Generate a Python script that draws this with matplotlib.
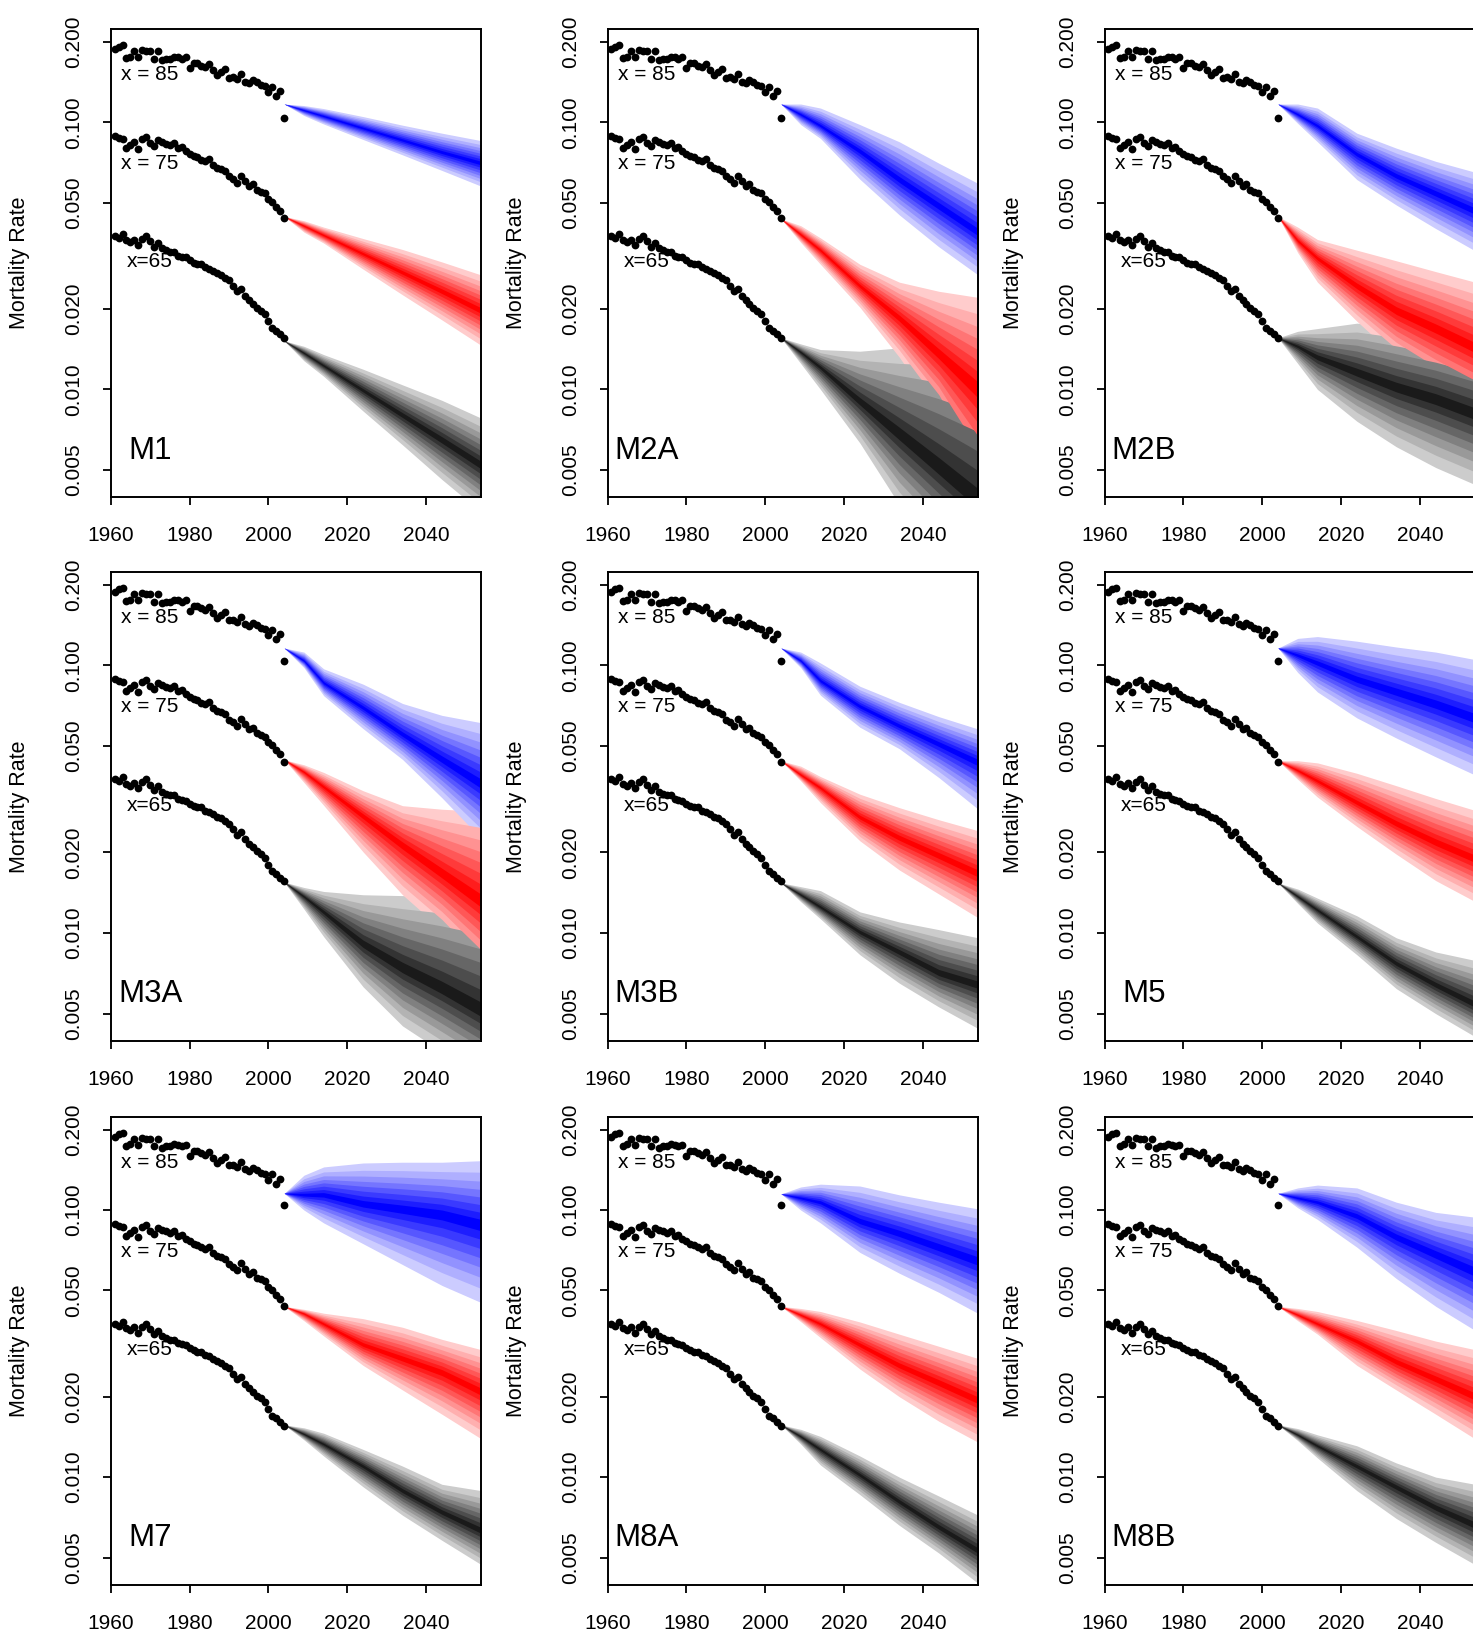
import numpy as np
import matplotlib
matplotlib.use("Agg")
import matplotlib.pyplot as plt

plt.rcParams['font.family'] = ['Liberation Sans', 'DejaVu Sans']

# ---------------- historical data (1961-2004) ----------------
years_hist = list(range(1961, 2005))
rate85 = [0.188, 0.192, 0.195, 0.174, 0.176, 0.185, 0.175, 0.186, 0.185, 0.185,
          0.173, 0.185, 0.171, 0.173, 0.173, 0.176, 0.175, 0.173, 0.175, 0.160,
          0.167, 0.166, 0.163, 0.161, 0.165, 0.157, 0.150, 0.154, 0.158, 0.147,
          0.148, 0.145, 0.151, 0.142, 0.140, 0.144, 0.141, 0.138, 0.137, 0.130,
          0.136, 0.125, 0.131, 0.104]
rate75 = [0.0885, 0.0871, 0.0863, 0.0802, 0.0819, 0.0845, 0.0795, 0.0863, 0.0879, 0.0837,
          0.0812, 0.0858, 0.0845, 0.0832, 0.0819, 0.0837, 0.0802, 0.0807, 0.0782, 0.0763,
          0.0747, 0.0740, 0.0725, 0.0714, 0.0729, 0.0692, 0.0675, 0.0667, 0.0655, 0.0627,
          0.0612, 0.0594, 0.0631, 0.0603, 0.0576, 0.0585, 0.0558, 0.0550, 0.0542, 0.0517,
          0.0502, 0.0482, 0.0465, 0.0437]
rate65 = [0.0375, 0.0369, 0.0381, 0.0361, 0.0355, 0.0364, 0.0347, 0.0366, 0.0375, 0.0358,
          0.0342, 0.0353, 0.0337, 0.0332, 0.0327, 0.0327, 0.0317, 0.0314, 0.0312, 0.0304,
          0.0298, 0.0295, 0.0295, 0.0286, 0.0283, 0.0278, 0.0272, 0.0268, 0.0261, 0.0256,
          0.0244, 0.0233, 0.0238, 0.0224, 0.0216, 0.0209, 0.0202, 0.0197, 0.0191, 0.0180,
          0.0170, 0.0166, 0.0161, 0.0156]

# ---------------- forecast fans: (median, lower limit, upper limit) ----------------
fc_years = [2004, 2009, 2014, 2024, 2034, 2044, 2054]

M1 = {
    "85": ([0.117, 0.111, 0.1055, 0.0951, 0.0858, 0.0773, 0.0703],
           [0.117, 0.106, 0.0985, 0.0862, 0.0755, 0.0660, 0.0576],
           [0.117, 0.1155, 0.1125, 0.1050, 0.0975, 0.0910, 0.0853]),
    "75": ([0.0444, 0.041, 0.0378, 0.0322, 0.0274, 0.0233, 0.0197],
           [0.0444, 0.0388, 0.0353, 0.0282, 0.0226, 0.0182, 0.0146],
           [0.0444, 0.0428, 0.0405, 0.0367, 0.0334, 0.0300, 0.0268]),
    "65": ([0.0152, 0.0137, 0.01228, 0.00992, 0.00801, 0.00647, 0.0052],
           [0.0152, 0.0128, 0.0112, 0.0083, 0.0062, 0.0046, 0.00347],
           [0.0152, 0.0145, 0.0135, 0.0119, 0.0104, 0.0091, 0.0078]),
}
M2A = {
    "85": ([0.117, 0.107, 0.097, 0.078, 0.061, 0.0486, 0.0387],
           [0.117, 0.098, 0.087, 0.0612, 0.045, 0.0342, 0.0268],
           [0.117, 0.117, 0.113, 0.098, 0.0845, 0.0703, 0.059]),
    "75": ([0.0435, 0.038, 0.0332, 0.0244, 0.0185, 0.0136, 0.0100],
           [0.0435, 0.0355, 0.0294, 0.0203, 0.0132, 0.0081, 0.0039],
           [0.0435, 0.041, 0.0369, 0.0294, 0.0252, 0.0233, 0.0221]),
    "65": ([0.0156, 0.0138, 0.0121, 0.0090, 0.0068, 0.0051, 0.0038],
           [0.0156, 0.0125, 0.0100, 0.0063, 0.0037, 0.0025, 0.0018],
           [0.0156, 0.0148, 0.0141, 0.0139, 0.0143, 0.0150, 0.0154]),
}
M2B = {
    "85": ([0.117, 0.107, 0.097, 0.076, 0.063, 0.0542, 0.0465],
           [0.117, 0.099, 0.0845, 0.061, 0.049, 0.040, 0.033],
           [0.117, 0.117, 0.113, 0.091, 0.080, 0.0714, 0.065]),
    "75": ([0.0444, 0.036, 0.031, 0.0244, 0.0197, 0.0169, 0.0143],
           [0.0444, 0.0325, 0.0252, 0.018, 0.0132, 0.0104, 0.0086],
           [0.0444, 0.0405, 0.0364, 0.0332, 0.0303, 0.0276, 0.0252]),
    "65": ([0.0156, 0.0145, 0.0132, 0.0116, 0.0102, 0.0092, 0.0081],
           [0.0156, 0.0125, 0.0100, 0.0076, 0.0061, 0.0051, 0.0044],
           [0.0156, 0.0165, 0.0169, 0.0177, 0.0172, 0.0164, 0.0154]),
}
M3A = {
    "85": ([0.116, 0.104, 0.086, 0.0694, 0.0552, 0.0445, 0.036],
           [0.116, 0.098, 0.077, 0.058, 0.0445, 0.032, 0.0225],
           [0.116, 0.112, 0.097, 0.085, 0.072, 0.065, 0.061]),
    "75": ([0.0444, 0.040, 0.0352, 0.0274, 0.0213, 0.0167, 0.0131],
           [0.0444, 0.0365, 0.030, 0.0201, 0.0139, 0.0103, 0.0071],
           [0.0444, 0.0425, 0.0398, 0.034, 0.0299, 0.029, 0.0285]),
    "65": ([0.0155, 0.0137, 0.0120, 0.0091, 0.0074, 0.0062, 0.0051],
           [0.0155, 0.0123, 0.0097, 0.0063, 0.0045, 0.0036, 0.0029],
           [0.0155, 0.0148, 0.0143, 0.0139, 0.0138, 0.0137, 0.0135]),
}
M3B = {
    "85": ([0.116, 0.104, 0.0875, 0.0703, 0.0594, 0.0509, 0.0435],
           [0.116, 0.098, 0.0773, 0.0587, 0.0488, 0.0381, 0.029],
           [0.116, 0.112, 0.102, 0.0835, 0.0727, 0.0643, 0.0578]),
    "75": ([0.044, 0.039, 0.0349, 0.0271, 0.0227, 0.0195, 0.0167],
           [0.044, 0.037, 0.0307, 0.0221, 0.0172, 0.014, 0.0114],
           [0.044, 0.042, 0.0384, 0.033, 0.0294, 0.0265, 0.0241]),
    "65": ([0.0154, 0.0139, 0.0125, 0.0101, 0.0085, 0.0071, 0.0064],
           [0.0154, 0.0131, 0.0113, 0.0083, 0.0065, 0.0053, 0.0044],
           [0.0154, 0.0149, 0.0144, 0.0120, 0.0110, 0.0103, 0.0096]),
}
M5 = {
    "85": ([0.116, 0.109, 0.102, 0.0887, 0.0797, 0.0716, 0.0634],
           [0.116, 0.094, 0.0795, 0.0636, 0.0535, 0.0455, 0.0389],
           [0.116, 0.126, 0.128, 0.123, 0.117, 0.112, 0.105]),
    "75": ([0.044, 0.0405, 0.037, 0.0307, 0.0256, 0.0218, 0.0189],
           [0.044, 0.0375, 0.0322, 0.025, 0.0197, 0.0157, 0.0131],
           [0.044, 0.0440, 0.0432, 0.0395, 0.0355, 0.0318, 0.0287]),
    "65": ([0.0154, 0.0137, 0.0122, 0.0097, 0.0077, 0.0064, 0.0054],
           [0.0154, 0.0129, 0.0109, 0.0083, 0.0062, 0.0050, 0.0041],
           [0.0154, 0.0146, 0.0135, 0.0116, 0.0096, 0.0085, 0.0079]),
}
M7 = {
    "85": ([0.1155, 0.114, 0.114, 0.1055, 0.101, 0.0965, 0.0882],
           [0.1155, 0.100, 0.0895, 0.0748, 0.0625, 0.0522, 0.045],
           [0.1155, 0.135, 0.145, 0.150, 0.151, 0.151, 0.153]),
    "75": ([0.0436, 0.041, 0.0375, 0.0313, 0.0278, 0.0247, 0.0209],
           [0.0436, 0.0385, 0.0338, 0.0262, 0.0212, 0.0172, 0.0139],
           [0.0436, 0.0425, 0.0411, 0.0392, 0.0364, 0.0328, 0.030]),
    "65": ([0.0157, 0.0145, 0.0133, 0.011, 0.0089, 0.0074, 0.0063],
           [0.0157, 0.0138, 0.012, 0.0092, 0.0072, 0.0058, 0.0047],
           [0.0157, 0.0153, 0.0146, 0.0127, 0.011, 0.0094, 0.0089]),
}
M8A = {
    "85": ([0.115, 0.111, 0.107, 0.0908, 0.0818, 0.0726, 0.0644],
           [0.115, 0.100, 0.0895, 0.0694, 0.058, 0.0492, 0.041],
           [0.115, 0.122, 0.125, 0.123, 0.114, 0.107, 0.101]),
    "75": ([0.0436, 0.0405, 0.0375, 0.0313, 0.0262, 0.0226, 0.0194],
           [0.0436, 0.0382, 0.0333, 0.0254, 0.020, 0.0162, 0.0135],
           [0.0436, 0.0428, 0.0417, 0.0381, 0.0343, 0.0309, 0.0278]),
    "65": ([0.0157, 0.0142, 0.0127, 0.0102, 0.0081, 0.0065, 0.0053],
           [0.0157, 0.0133, 0.0111, 0.0086, 0.0066, 0.0052, 0.0040],
           [0.0157, 0.0151, 0.0142, 0.012, 0.010, 0.0085, 0.0072]),
}
M8B = {
    "85": ([0.1155, 0.111, 0.107, 0.095, 0.0794, 0.0684, 0.0588],
           [0.1155, 0.102, 0.0922, 0.0726, 0.0554, 0.0436, 0.0354],
           [0.1155, 0.121, 0.124, 0.121, 0.107, 0.098, 0.094]),
    "75": ([0.0436, 0.0405, 0.0375, 0.0323, 0.027, 0.0233, 0.020],
           [0.0436, 0.0385, 0.0343, 0.0262, 0.0212, 0.0172, 0.0139],
           [0.0436, 0.0428, 0.0417, 0.0386, 0.0354, 0.0323, 0.030]),
    "65": ([0.0157, 0.0144, 0.0131, 0.011, 0.0092, 0.0077, 0.0066],
           [0.0157, 0.0137, 0.0118, 0.0089, 0.007, 0.0057, 0.0047],
           [0.0157, 0.0152, 0.0144, 0.0131, 0.0113, 0.010, 0.0094]),
}

model_names = ["M1", "M2A", "M2B", "M3A", "M3B", "M5", "M7", "M8A", "M8B"]
model_fans = [M1, M2A, M2B, M3A, M3B, M5, M7, M8A, M8B]

x_ticks = [1960, 1980, 2000, 2020, 2040]
y_ticks = [0.005, 0.010, 0.020, 0.050, 0.100, 0.200]
y_ticklabels = ["0.005", "0.010", "0.020", "0.050", "0.100", "0.200"]
age_labels = {"85": "x = 85", "75": "x = 75", "65": "x=65"}
age_label_y = {"85": 0.151, "75": 0.0702, "65": 0.0300}

# ---------------- layout & styling ----------------
W, H = 1473, 1637
fig = plt.figure(figsize=(W / 100, H / 100), dpi=100)

col_left_px = [110.7, 607.5, 1104.5]
ax_w_px = 370.7
row_px = [(29.2, 496.9), (572.0, 1040.8), (1117.0, 1584.6)]

band_frac = [1.0, 0.82, 0.68, 0.55, 0.43, 0.31, 0.19, 0.08]
n_b = len(band_frac)
light = np.linspace(0.80, 0.0, n_b)
shades = {
    "85": [(l, l, 1.0) for l in light],
    "75": [(1.0, l, l) for l in light],
    "65": [(g, g, g) for g in np.linspace(0.80, 0.10, n_b)],
}

for i, (name, fan) in enumerate(zip(model_names, model_fans)):
    r, c = divmod(i, 3)
    top, bot = row_px[r]
    rect = [col_left_px[c] / W, 1 - bot / H, ax_w_px / W, (bot - top) / H]
    ax = fig.add_axes(rect)
    ax.set_yscale("log")

    for age in ["65", "75", "85"]:
        med, lo, hi = (np.array(a) for a in fan[age])
        for k, f in enumerate(band_frac):
            lower = med * (lo / med) ** f
            upper = med * (hi / med) ** f
            ax.fill_between(fc_years, lower, upper, color=shades[age][k],
                            linewidth=0, zorder=1 + k * 0.01)

    for rates in (rate85, rate75, rate65):
        ax.plot(years_hist, rates, "o", color="black", ms=5.6, mew=0, zorder=5)

    for age in ["85", "75", "65"]:
        ax.text(1970, age_label_y[age], age_labels[age], ha="center", va="center",
                fontsize=15, zorder=6)
    ax.text(1970, 0.0059, name, ha="center", va="center", fontsize=22.5, zorder=6)

    ax.set_xlim(1960, 2054)
    ax.set_ylim(0.00396, 0.223)
    ax.set_xticks(x_ticks)
    ax.set_xticklabels([str(t) for t in x_ticks])
    ax.set_yticks(y_ticks)
    ax.set_yticklabels(y_ticklabels)
    ax.yaxis.set_minor_locator(plt.NullLocator())
    ax.tick_params(axis="both", direction="out", length=6, width=1.3,
                   labelsize=15, colors="black")
    ax.tick_params(axis="x", pad=15)
    ax.tick_params(axis="y", pad=14)
    for lab in ax.get_yticklabels():
        lab.set_rotation(90)
        lab.set_va("center")
    for sp in ax.spines.values():
        sp.set_linewidth(1.4)
    ax.text((20 - col_left_px[0]) / ax_w_px, 0.5, "Mortality Rate",
            rotation=90, ha="center", va="center", fontsize=15.5,
            transform=ax.transAxes)

fig.savefig("out.png", dpi=100)
